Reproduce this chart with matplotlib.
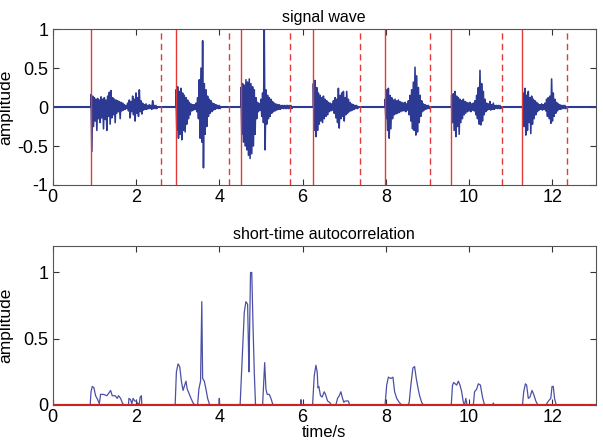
import numpy as np
import matplotlib
matplotlib.use("Agg")
import matplotlib.pyplot as plt

plt.rcParams['font.family'] = ['Liberation Sans', 'DejaVu Sans']

# ---------------- data ----------------
T_END = 13.04
STEP = 0.04  # sampling step of envelope readings (s)

word_starts = [0.92, 2.96, 4.52, 6.26, 7.98, 9.58, 11.30]

w1_up = [0.16, 0.14, 0.12, 0.10, 0.11, 0.09, 0.13, 0.10, 0.12, 0.09, 0.14, 0.19, 0.21, 0.12, 0.10, 0.09,
         0.08, 0.07, 0.06, 0.05, 0.03, 0.02, 0.05, 0.09, 0.07, 0.14, 0.10, 0.18, 0.12, 0.22, 0.08, 0.05,
         0.03, 0.04, 0.02, 0.03, 0.02, 0.08, 0.02, 0.02]
w1_lo = [-0.57, -0.25, -0.18, -0.30, -0.15, -0.20, -0.14, -0.28, -0.16, -0.30, -0.12, -0.22, -0.14, -0.10,
         -0.20, -0.08, -0.06, -0.15, -0.05, -0.04, -0.03, -0.02, -0.05, -0.14, -0.06, -0.10, -0.18, -0.08,
         -0.12, -0.06, -0.09, -0.04, -0.03, -0.03, -0.02, -0.02, -0.03, -0.02, -0.02, -0.02]
w2_up = [0.22, 0.26, 0.20, 0.24, 0.18, 0.15, 0.12, 0.09, 0.06, 0.04, 0.03, 0.03, 0.05, 0.12, 0.35, 0.50,
         0.85, 0.30, 0.22, 0.14, 0.10, 0.08, 0.05, 0.04, 0.03, 0.02, 0.02]
w2_lo = [-0.30, -0.40, -0.35, -0.42, -0.30, -0.32, -0.22, -0.15, -0.10, -0.05, -0.04, -0.03, -0.06, -0.15,
         -0.40, -0.45, -0.78, -0.35, -0.25, -0.12, -0.08, -0.06, -0.04, -0.03, -0.02, -0.02, -0.02]
w3_up = [0.25, 0.30, 0.28, 0.35, 0.32, 0.36, 0.30, 0.26, 0.22, 0.12, 0.06, 0.04, 0.10, 0.18, 1.00, 0.22,
         0.15, 0.12, 0.10, 0.07, 0.05, 0.04, 0.03, 0.03, 0.02, 0.02, 0.02, 0.02, 0.02, 0.02, 0.02]
w3_lo = [-0.35, -0.45, -0.50, -0.55, -0.62, -0.66, -0.60, -0.50, -0.35, -0.15, -0.06, -0.04, -0.12, -0.20,
         -0.55, -0.22, -0.15, -0.12, -0.08, -0.06, -0.05, -0.04, -0.03, -0.03, -0.02, -0.02, -0.02, -0.02,
         -0.02, -0.02, -0.02]
w4_up = [0.30, 0.34, 0.25, 0.18, 0.15, 0.12, 0.14, 0.10, 0.08, 0.06, 0.05, 0.04, 0.08, 0.12, 0.10, 0.24,
         0.15, 0.18, 0.20, 0.12, 0.20, 0.10, 0.06, 0.04, 0.03, 0.02, 0.02]
w4_lo = [-0.30, -0.38, -0.30, -0.22, -0.18, -0.20, -0.15, -0.12, -0.10, -0.06, -0.05, -0.04, -0.08, -0.14,
         -0.20, -0.27, -0.15, -0.12, -0.18, -0.10, -0.08, -0.06, -0.05, -0.04, -0.03, -0.02, -0.02]
w5_up = [0.10, 0.22, 0.24, 0.15, 0.12, 0.09, 0.10, 0.08, 0.09, 0.07, 0.06, 0.05, 0.06, 0.04, 0.08, 0.15,
         0.22, 0.32, 0.51, 0.40, 0.25, 0.15, 0.08, 0.04, 0.03, 0.02, 0.02]
w5_lo = [-0.15, -0.30, -0.40, -0.28, -0.15, -0.10, -0.09, -0.08, -0.07, -0.06, -0.05, -0.05, -0.06, -0.04,
         -0.10, -0.18, -0.28, -0.30, -0.36, -0.32, -0.20, -0.12, -0.06, -0.04, -0.03, -0.02, -0.02]
w6_up = [0.15, 0.17, 0.20, 0.14, 0.12, 0.10, 0.08, 0.10, 0.07, 0.06, 0.05, 0.06, 0.04, 0.05, 0.08, 0.15,
         0.25, 0.47, 0.30, 0.20, 0.10, 0.05, 0.04, 0.07, 0.03, 0.05, 0.02, 0.02, 0.02, 0.02]
w6_lo = [-0.20, -0.30, -0.38, -0.25, -0.35, -0.20, -0.15, -0.10, -0.08, -0.06, -0.05, -0.06, -0.04, -0.05,
         -0.10, -0.15, -0.22, -0.23, -0.18, -0.10, -0.06, -0.04, -0.03, -0.04, -0.03, -0.03, -0.02, -0.02,
         -0.02, -0.02]
w7_up = [0.18, 0.24, 0.15, 0.20, 0.12, 0.14, 0.10, 0.08, 0.06, 0.04, 0.03, 0.04, 0.03, 0.05, 0.10, 0.12,
         0.14, 0.36, 0.18, 0.10, 0.06, 0.04, 0.03, 0.02, 0.02, 0.02]
w7_lo = [-0.25, -0.36, -0.30, -0.20, -0.34, -0.22, -0.15, -0.10, -0.06, -0.04, -0.03, -0.04, -0.03, -0.05,
         -0.12, -0.15, -0.21, -0.18, -0.12, -0.08, -0.05, -0.03, -0.03, -0.02, -0.02, -0.02]

word_uppers = [w1_up, w2_up, w3_up, w4_up, w5_up, w6_up, w7_up]
word_lowers = [w1_lo, w2_lo, w3_lo, w4_lo, w5_lo, w6_lo, w7_lo]

# segment boundaries (red lines)
seg_starts = [0.91, 2.95, 4.53, 6.25, 7.97, 9.57, 11.28]
seg_ends = [2.59, 4.23, 5.69, 7.38, 9.06, 10.79, 12.36]

# short-time autocorrelation keypoints
ac_t = [0.0, 0.90, 0.92, 0.95, 0.99, 1.03, 1.08, 1.12, 1.15, 1.22, 1.30, 1.35, 1.39, 1.43, 1.50, 1.55,
        1.58, 1.63, 1.68, 1.72, 1.82, 1.83, 1.87, 1.90, 1.93, 1.97, 2.01, 2.04, 2.08, 2.10, 2.13, 2.14,
        2.94, 2.97, 3.01, 3.05, 3.09, 3.13, 3.17, 3.20, 3.23, 3.27, 3.32, 3.38, 3.42, 3.48, 3.51, 3.55,
        3.58, 3.60, 3.64, 3.68, 3.72, 3.77, 3.99, 4.00, 4.01, 4.50, 4.55, 4.60, 4.64, 4.68, 4.70, 4.71,
        4.73, 4.75, 4.78, 4.81, 4.84, 4.87, 5.04, 5.07, 5.09, 5.12, 5.15, 5.20, 5.24, 5.29, 5.95, 5.96,
        5.97, 6.24, 6.28, 6.32, 6.35, 6.37, 6.39, 6.43, 6.47, 6.52, 6.55, 6.60, 6.65, 6.69, 6.80, 6.84,
        6.88, 6.92, 6.96, 6.99, 7.02, 7.10, 7.13, 7.98, 8.02, 8.06, 8.12, 8.17, 8.21, 8.26, 8.32, 8.38,
        8.53, 8.56, 8.60, 8.65, 8.69, 8.73, 8.77, 8.81, 8.86, 8.90, 9.57, 9.60, 9.63, 9.70, 9.74, 9.78,
        9.82, 9.86, 9.89, 9.92, 9.95, 10.10, 10.13, 10.18, 10.22, 10.27, 10.32, 10.36, 10.38, 10.57,
        10.58, 10.60, 11.28, 11.31, 11.35, 11.38, 11.42, 11.46, 11.51, 11.55, 11.60, 11.65, 11.85, 11.88,
        11.93, 11.96, 11.99, 12.02, 12.05, 12.09, 13.04]
ac_v = [0, 0, 0.10, 0.14, 0.13, 0.07, 0.04, 0.01, 0.08, 0.08, 0.07, 0.09, 0.11, 0.07, 0.07, 0.05,
        0.07, 0.05, 0.01, 0, 0, 0.05, 0.04, 0.01, 0.05, 0.03, 0.03, 0.01, 0.01, 0.06, 0.07, 0,
        0, 0.25, 0.31, 0.29, 0.18, 0.11, 0.15, 0.18, 0.12, 0.09, 0.05, 0.01, 0, 0, 0.12, 0.18,
        0.78, 0.20, 0.18, 0.12, 0.05, 0, 0, 0.05, 0, 0, 0.35, 0.70, 0.78, 0.76, 0.45, 0.25,
        0.60, 1.00, 1.00, 0.60, 0.25, 0, 0, 0.20, 0.32, 0.12, 0.08, 0.08, 0.05, 0, 0, 0.04,
        0, 0, 0.22, 0.30, 0.25, 0.13, 0.14, 0.07, 0.06, 0.10, 0.08, 0.03, 0.02, 0, 0, 0.05,
        0.07, 0.10, 0.05, 0.02, 0.03, 0.03, 0, 0, 0.15, 0.21, 0.20, 0.21, 0.10, 0.05, 0.02, 0,
        0, 0.02, 0.15, 0.28, 0.29, 0.20, 0.13, 0.07, 0.02, 0, 0, 0.15, 0.17, 0.15, 0.18, 0.15,
        0.10, 0.02, 0, 0.05, 0, 0, 0.10, 0.12, 0.16, 0.15, 0.06, 0.01, 0, 0,
        0.015, 0, 0, 0.10, 0.16, 0.15, 0.05, 0.06, 0.11, 0.08, 0.03, 0, 0, 0.02,
        0.04, 0.05, 0.14, 0.14, 0.05, 0, 0]

# ---------------- build waveform polyline ----------------
wx = [0.0]
wy = [0.0]
for start, ups, los in zip(word_starts, word_uppers, word_lowers):
    wx.append(start - 0.005)
    wy.append(0.0)
    for k, (u, l) in enumerate(zip(ups, los)):
        t = start + STEP * k
        wx += [t, t + STEP / 2]
        wy += [u, l]
    wx.append(start + STEP * len(ups))
    wy.append(0.0)
wx.append(T_END)
wy.append(0.0)

# ---------------- figure ----------------
fig = plt.figure(figsize=(6.03, 4.43), dpi=100)
ax1 = fig.add_axes([0.0874, 0.5824, 0.9006, 0.3521])
ax2 = fig.add_axes([0.0874, 0.0858, 0.9006, 0.3589])

wave_col = '#2c3a94'
red_col = '#e23a3a'

ax1.plot(wx, wy, color=wave_col, lw=1.15)
ax1.axhline(0, color=wave_col, lw=1.5)
for xs in seg_starts:
    ax1.axvline(xs, color=red_col, lw=1.0)
for xe in seg_ends:
    ax1.axvline(xe, color=red_col, lw=1.0, dashes=(4.5, 3))
ax1.set_xlim(0, T_END)
ax1.set_ylim(-1, 1)
ax1.set_xticks([0, 2, 4, 6, 8, 10, 12])
ax1.set_yticks([-1, -0.5, 0, 0.5, 1])
ax1.set_yticklabels(['-1', '-0.5', '0', '0.5', '1'])
ax1.set_title('signal wave', fontsize=11.5, pad=5)
ax1.set_ylabel('amplitude', fontsize=12.5)
ax1.yaxis.set_label_coords(-0.072, 0.5)

ax2.plot(ac_t, ac_v, color='#4b50a6', lw=0.9)
ax2.axhline(0, color='#d42020', lw=1.6)
ax2.set_xlim(0, T_END)
ax2.set_ylim(0, 1.2)
ax2.set_xticks([0, 2, 4, 6, 8, 10, 12])
ax2.set_yticks([0, 0.5, 1])
ax2.set_yticklabels(['0', '0.5', '1'])
ax2.set_title('short-time autocorrelation', fontsize=11.5, pad=5)
ax2.set_ylabel('amplitude', fontsize=12.5)
ax2.yaxis.set_label_coords(-0.072, 0.5)
ax2.set_xlabel('time/s', fontsize=12, labelpad=-1)

for ax in (ax1, ax2):
    ax.tick_params(direction='in', length=4, width=0.8, top=True, right=True,
                   labelsize=13, colors='#333333', labelcolor='black', pad=3)
    for sp in ax.spines.values():
        sp.set_color('#555555')
        sp.set_linewidth(0.8)

fig.savefig('out.png', dpi=100)
